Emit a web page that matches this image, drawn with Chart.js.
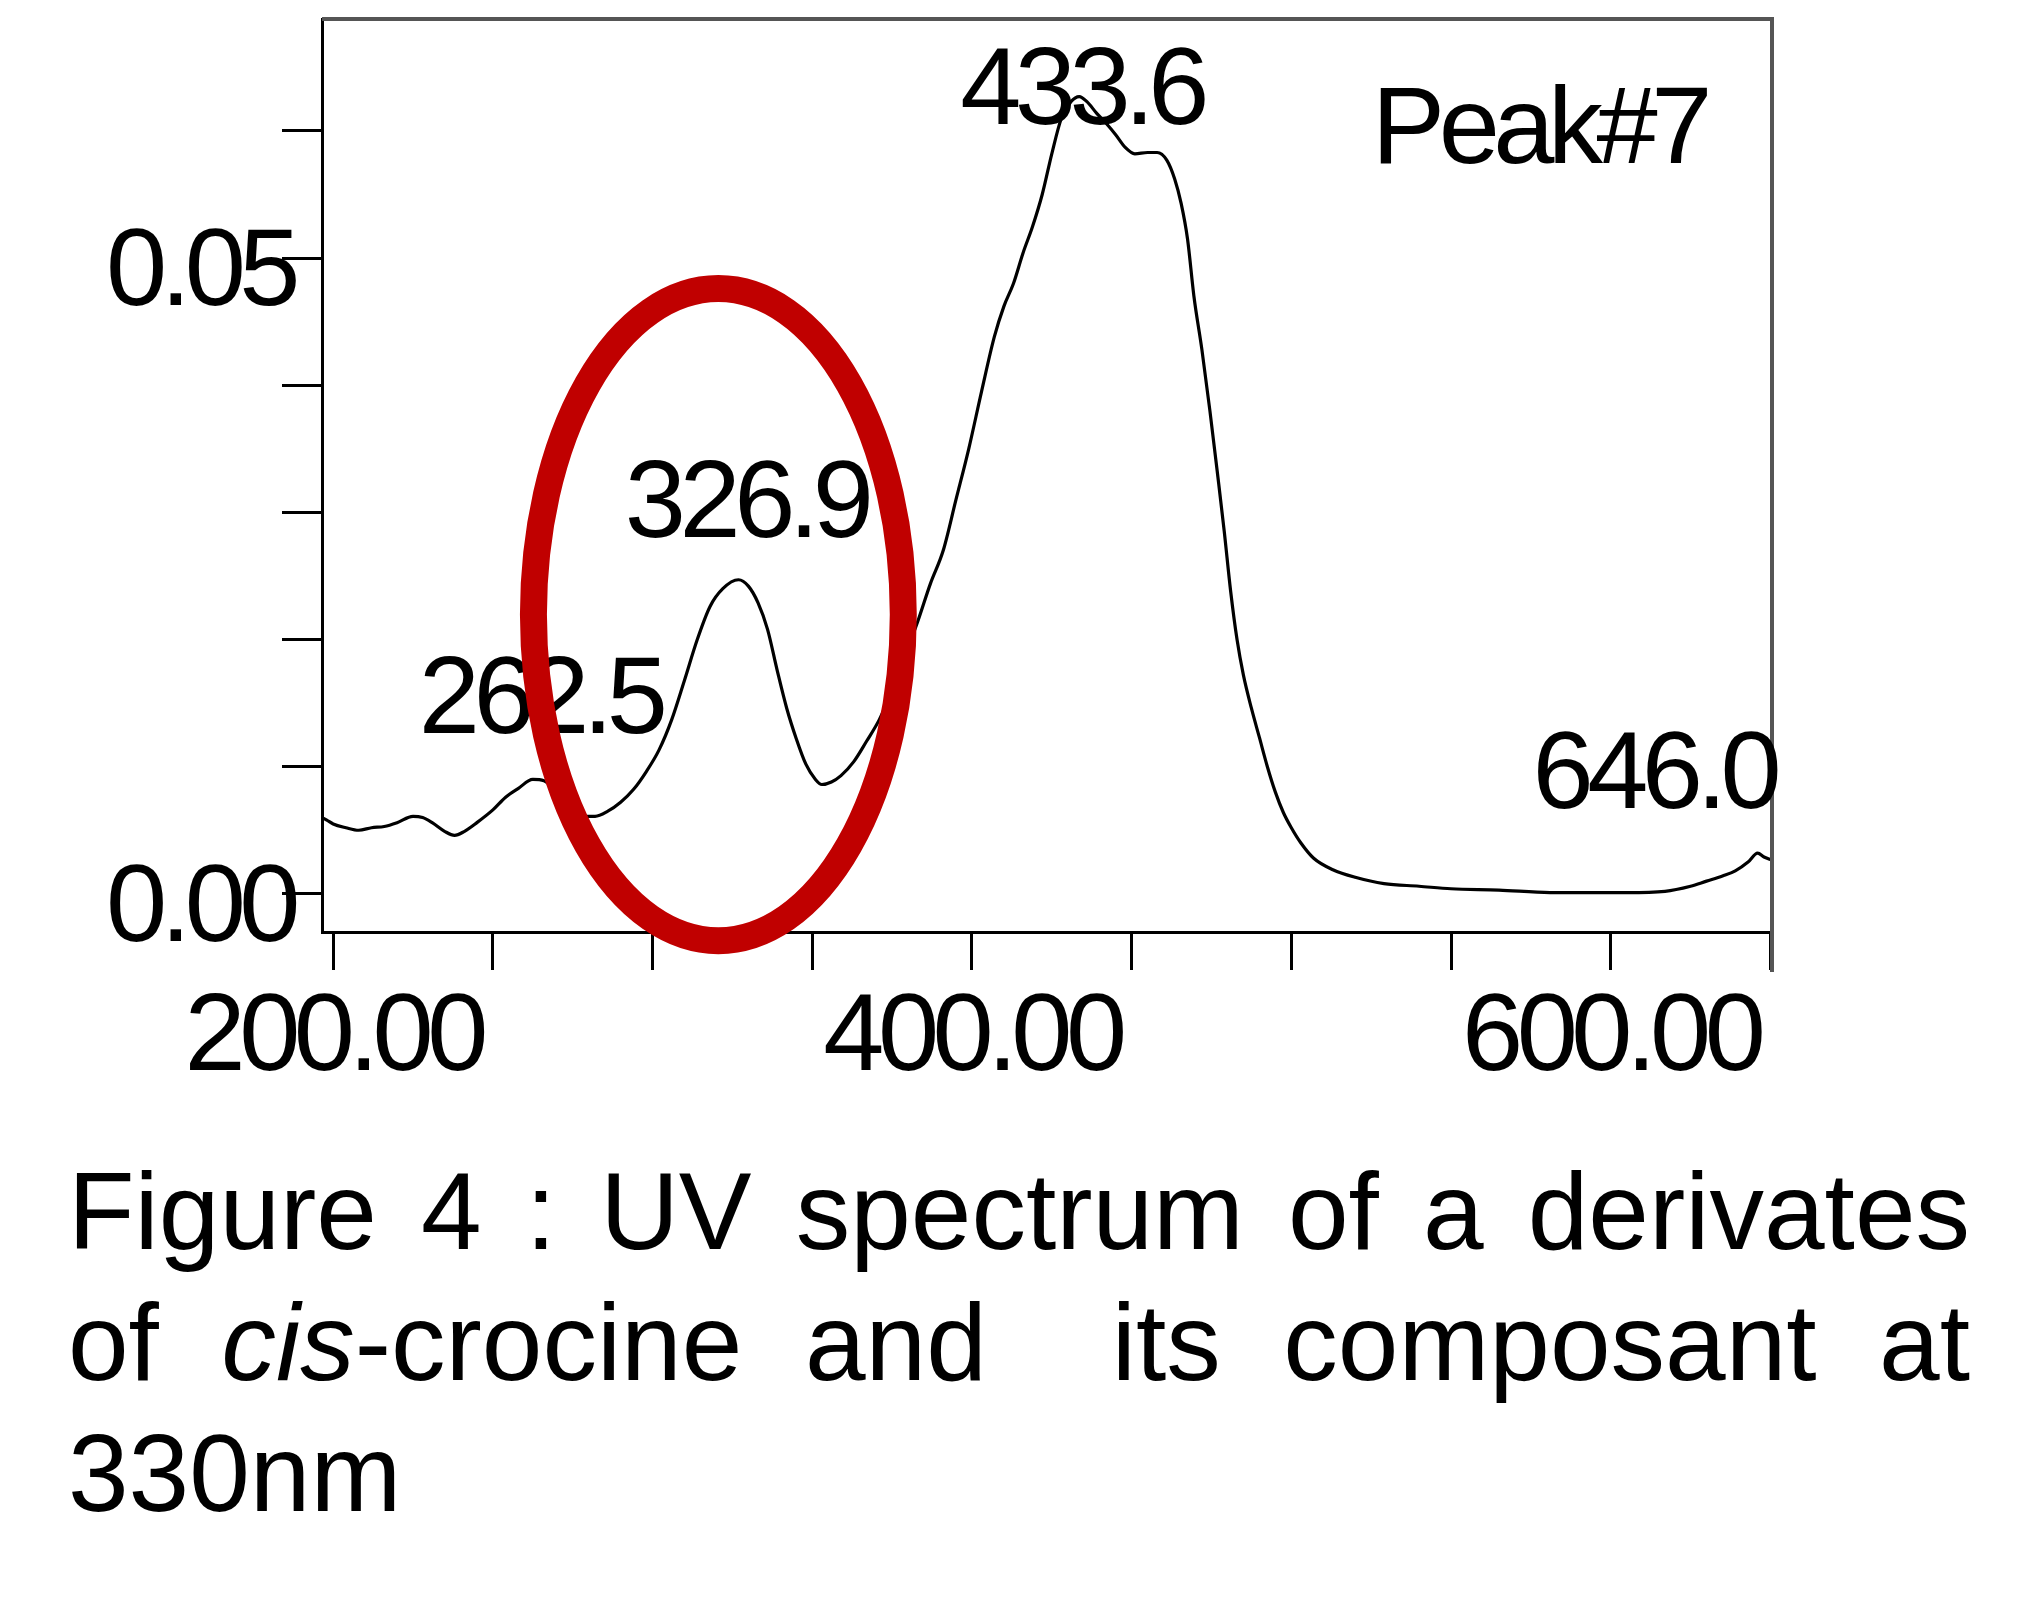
<!DOCTYPE html>
<html>
<head>
<meta charset="utf-8">
<script src="https://cdn.jsdelivr.net/npm/chart.js@4.4.1/dist/chart.umd.min.js"></script>
<style>
html,body{margin:0;padding:0;background:#fff;width:2037px;height:1604px;overflow:hidden;}
#wrap{position:absolute;left:0;top:0;width:2037px;height:1120px;}
#cap{position:absolute;left:68px;top:1146px;width:1902px;font-family:"Liberation Sans",Arial,sans-serif;font-size:109px;line-height:131px;color:#000;}
#cap div{text-align:justify;text-align-last:justify;white-space:nowrap;}
#cap div.last{text-align:left;text-align-last:left;}
</style>
</head>
<body>
<div id="wrap"><canvas id="c" width="2037" height="1120"></canvas></div>
<div id="cap">
<div>Figure 4 : UV spectrum of a derivates</div>
<div style="white-space:normal">of <i>cis</i>-crocine and&nbsp; its composant at</div>
<div class="last">330nm</div>
</div>
<script>
// ---- data (wavelength nm, absorbance AU) ----
const wavelengths = [196.5,198,200,204,208,212,216,220,225,228,231,235,238,241,245,250,254,258,262.5,266,270,274,278,282,286,290,294,298,302,306,310,314,318,322,326.9,330,333,336,339,342,345,348,351,353,356,359,363,367,371,375,379,383,387,391,395,399,403,407,410,413,416,419,422,425,428,431,433.6,436,439,442,445,448,451,455,458,461,463.5,465.5,467.5,469.5,472,474.5,477,479,481,483,485,487.5,490,492.5,495,497.5,500,503,507,513,520,529,540,550,565,581,595,605,617,625,630,635,639,643,646,648,650];
const absorbance = [0.0060,0.0058,0.0055,0.0052,0.0050,0.0052,0.0053,0.0056,0.0061,0.0060,0.0056,0.0049,0.0046,0.0049,0.0056,0.0066,0.0076,0.0083,0.0090,0.0089,0.0080,0.0068,0.0061,0.0061,0.0065,0.0072,0.0082,0.0096,0.0113,0.0137,0.0168,0.0200,0.0226,0.0240,0.0247,0.0242,0.0229,0.0208,0.0176,0.0146,0.0122,0.0102,0.0090,0.0086,0.0088,0.0093,0.0104,0.0120,0.0137,0.0160,0.0187,0.0214,0.0244,0.0270,0.0310,0.0350,0.0395,0.0438,0.0462,0.0480,0.0504,0.0525,0.0550,0.0582,0.0610,0.0623,0.0627,0.0623,0.0614,0.0606,0.0597,0.0587,0.0582,0.0583,0.0583,0.0577,0.0562,0.0543,0.0515,0.0470,0.0428,0.0380,0.0328,0.0285,0.0238,0.0200,0.0172,0.0146,0.0123,0.0100,0.0080,0.0064,0.0052,0.0040,0.0028,0.0019,0.0013,0.0008,0.0006,0.0004,0.0003,0.0001,0.0001,0.0001,0.0002,0.0006,0.0010,0.0014,0.0018,0.0025,0.0032,0.0029,0.0027];

// ---- axes ----
const xMin = 196.5, xMax = 650.5;
const yMin = -0.003, yMax = 0.0688;
const xTickValues = [200,250,300,350,400,450,500,550,600,650];
const xLabelValues = [200,400,600];
const xLabelTexts = ['200.00','400.00','600.00'];
const yTickValues = [0,0.01,0.02,0.03,0.04,0.05,0.06];
const yLabelValues = [0,0.05];
const yLabelTexts = ['0.00','0.05'];

// ---- annotations ----
const peakLabels = ['262.5','326.9','433.6','646.0'];
const peakLabelX = [226.8,291.3,396.3,575.5];
const peakLabelY = [0.01265,0.02804,0.06057,0.00676];
const panelLabel = 'Peak#7';
const panelLabelX = 525.2, panelLabelY = 0.0575;
const circleCenterX = 320.6, circleCenterY = 0.02196;
const circleRadiusX = 57.9, circleRadiusY = 0.02564;

const FONT = '"Liberation Sans", Arial, Helvetica, sans-serif';
const TRACK = '-6.5px';

function findLabel(vals, texts, v){
  for (let i=0;i<vals.length;i++){ if (Math.abs(vals[i]-v) < 1e-9) return texts[i]; }
  return '';
}

const trackingPlugin = {
  id:'tracking',
  beforeDraw(chart){ chart.ctx.letterSpacing = TRACK; }
};

const annotPlugin = {
  id:'annot',
  afterDatasetsDraw(chart){
    const {ctx, chartArea:a, scales:{x,y}} = chart;
    ctx.save();
    ctx.strokeStyle = '#555';
    ctx.lineWidth = 4;
    ctx.beginPath();
    ctx.moveTo(a.left, a.top);
    ctx.lineTo(a.right, a.top);
    ctx.lineTo(a.right, a.bottom + 40);
    ctx.stroke();
    ctx.fillStyle = '#000';
    ctx.font = '110px ' + FONT;
    ctx.letterSpacing = TRACK;
    ctx.textAlign = 'left';
    ctx.textBaseline = 'alphabetic';
    peakLabels.forEach((t,i)=>{
      ctx.fillText(t, x.getPixelForValue(peakLabelX[i]), y.getPixelForValue(peakLabelY[i]));
    });
    ctx.fillText(panelLabel, x.getPixelForValue(panelLabelX), y.getPixelForValue(panelLabelY));
    ctx.restore();
  },
  afterDraw(chart){
    const {ctx, scales:{x,y}} = chart;
    const cx = x.getPixelForValue(circleCenterX), cy = y.getPixelForValue(circleCenterY);
    const rx = Math.abs(x.getPixelForValue(circleCenterX + circleRadiusX) - cx);
    const ry = Math.abs(y.getPixelForValue(circleCenterY + circleRadiusY) - cy);
    ctx.save();
    ctx.strokeStyle = '#C00000';
    ctx.lineWidth = 27;
    ctx.beginPath();
    ctx.ellipse(cx, cy, rx, ry, 0, 0, Math.PI*2);
    ctx.stroke();
    ctx.restore();
  }
};

const points = wavelengths.map((w,i)=>({x:w, y:absorbance[i]}));

new Chart(document.getElementById('c'), {
  type:'line',
  data:{ datasets:[{ data:points, borderColor:'#000', borderWidth:3.2, pointRadius:0, fill:false, cubicInterpolationMode:'monotone', clip:false }] },
  options:{
    responsive:false, animation:false, devicePixelRatio:1,
    layout:{ padding:{ top:19, right:265, left:0, bottom:0 } },
    plugins:{ legend:{display:false}, tooltip:{enabled:false} },
    scales:{
      x:{
        type:'linear', min:xMin, max:xMax,
        afterBuildTicks(s){ s.ticks = xTickValues.map(v=>({value:v})); },
        afterFit(s){ s.height = 188; s.paddingLeft = 0; s.paddingRight = 0; },
        ticks:{ autoSkip:false, maxRotation:0, minRotation:0, padding:4, color:'#000',
          font:{ family:FONT, size:110 },
          callback:(v)=>findLabel(xLabelValues, xLabelTexts, v) },
        grid:{ drawOnChartArea:false, drawTicks:true, tickLength:38, tickWidth:3, tickColor:'#000' },
        border:{ display:true, color:'#000', width:3 }
      },
      y:{
        type:'linear', min:yMin, max:yMax,
        afterBuildTicks(s){ s.ticks = yTickValues.map(v=>({value:v})); },
        afterFit(s){ s.width = 322; s.paddingTop = 0; s.paddingBottom = 0; },
        ticks:{ autoSkip:false, padding:-12, labelOffset:17, color:'#000',
          font:{ family:FONT, size:110 },
          callback:(v)=>findLabel(yLabelValues, yLabelTexts, v) },
        grid:{ drawOnChartArea:false, drawTicks:true, tickLength:40, tickWidth:3, tickColor:'#000' },
        border:{ display:true, color:'#000', width:3 }
      }
    }
  },
  plugins:[trackingPlugin, annotPlugin]
});
</script>
</body>
</html>
